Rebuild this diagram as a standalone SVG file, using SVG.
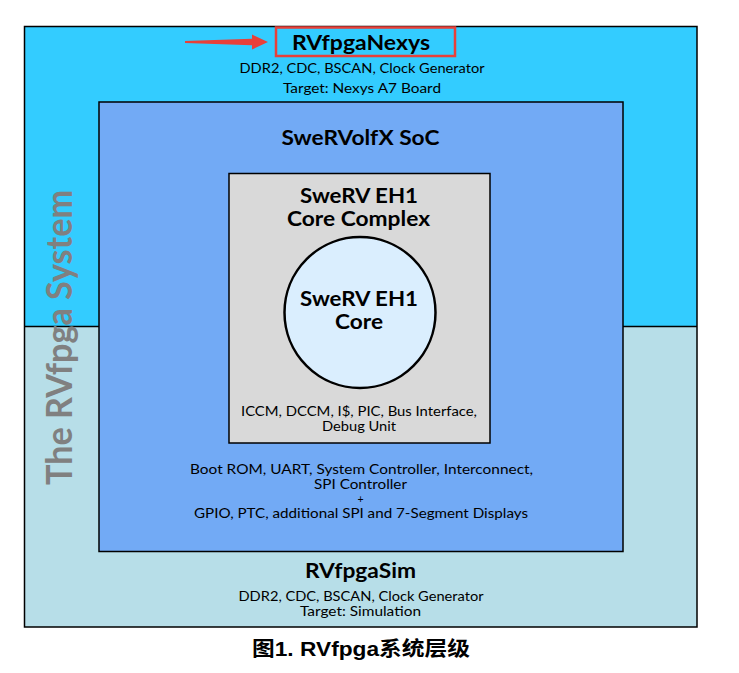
<svg xmlns="http://www.w3.org/2000/svg" width="739" height="673" viewBox="0 0 739 673">
<style>
.t{font-family:Lato,"Open Sans","Liberation Sans",sans-serif;fill:#000;text-anchor:middle}
.b{font-weight:bold;font-size:20px}
.n{font-size:14px}
.s{font-size:12.5px}
.box{stroke:#000;stroke-width:1.5}
</style>
<rect width="739" height="673" fill="#fff"/>
<g id="rvfpga-system">
<rect x="24.5" y="26.5" width="672.5" height="300" fill="#33CCFF"/>
<rect x="24.5" y="326.5" width="672.5" height="300.5" fill="#B7DEE8"/>
<rect x="24.5" y="26.5" width="672.5" height="600.5" fill="none" class="box"/>
<line x1="24.5" y1="326.5" x2="697" y2="326.5" stroke="#000" stroke-width="1.5"/>
<text transform="translate(71.5,337.5) rotate(-90)" class="t" style="font-weight:bold;font-size:36px;fill:#808080" textLength="295" lengthAdjust="spacingAndGlyphs">The RVfpga System</text>
</g>
<g id="rvfpga-nexys">
<rect x="276" y="27.5" width="179" height="28.5" fill="none" stroke="#E8403A" stroke-width="2.5"/>
<text x="361" y="49.5" class="t b" textLength="138" lengthAdjust="spacingAndGlyphs">RVfpgaNexys</text>
<text x="362" y="73" class="t n" textLength="245" lengthAdjust="spacingAndGlyphs">DDR2, CDC, BSCAN, Clock Generator</text>
<text x="362" y="93" class="t n" textLength="158" lengthAdjust="spacingAndGlyphs">Target: Nexys A7 Board</text>
</g>
<g id="pointer">
<polygon points="185,41 252,38.8 252,34.5 268,42 252,49.5 252,45.2 185,43" fill="#E8403A"/>
</g>
<g id="swervolfx-soc">
<rect x="99" y="102" width="524" height="449.5" fill="#72AAF5" class="box"/>
<text x="360.5" y="145" class="t b" textLength="158" lengthAdjust="spacingAndGlyphs">SweRVolfX SoC</text>
<text x="361.5" y="474" class="t s" textLength="343" lengthAdjust="spacingAndGlyphs">Boot ROM, UART, System Controller, Interconnect,</text>
<text x="360.5" y="489" class="t s" textLength="93" lengthAdjust="spacingAndGlyphs">SPI Controller</text>
<text x="360.5" y="503" class="t" style="font-size:10.5px">+</text>
<text x="361" y="518" class="t s" textLength="334" lengthAdjust="spacingAndGlyphs">GPIO, PTC, additional SPI and 7-Segment Displays</text>
</g>
<g id="core-complex">
<rect x="229" y="173.5" width="261" height="269.5" fill="#D9D9D9" class="box"/>
<text x="359" y="203" class="t b" textLength="118" lengthAdjust="spacingAndGlyphs">SweRV EH1</text>
<text x="358.5" y="226" class="t b" textLength="143" lengthAdjust="spacingAndGlyphs">Core Complex</text>
<text x="359" y="416" class="t s" textLength="236" lengthAdjust="spacingAndGlyphs">ICCM, DCCM, I$, PIC, Bus Interface,</text>
<text x="359" y="431" class="t s" textLength="74" lengthAdjust="spacingAndGlyphs">Debug Unit</text>
</g>
<g id="core">
<circle cx="360" cy="312.5" r="75.5" fill="#DAEEFE" stroke="#000" stroke-width="2.5"/>
<text x="359" y="306" class="t b" textLength="118" lengthAdjust="spacingAndGlyphs">SweRV EH1</text>
<text x="359" y="329" class="t b" textLength="48" lengthAdjust="spacingAndGlyphs">Core</text>
</g>
<g id="rvfpga-sim">
<text x="360.5" y="578" class="t b" textLength="111" lengthAdjust="spacingAndGlyphs">RVfpgaSim</text>
<text x="361" y="601" class="t s" textLength="245" lengthAdjust="spacingAndGlyphs">DDR2, CDC, BSCAN, Clock Generator</text>
<text x="360.5" y="616" class="t s" textLength="121" lengthAdjust="spacingAndGlyphs">Target: Simulation</text>
</g>
<g id="connectors"></g>
<text x="361" y="656" style="font-family:'Liberation Sans','Noto Sans CJK SC',sans-serif;font-weight:bold;font-size:20px;text-anchor:middle" textLength="218" lengthAdjust="spacingAndGlyphs">图1. RVfpga系统层级</text>
</svg>
